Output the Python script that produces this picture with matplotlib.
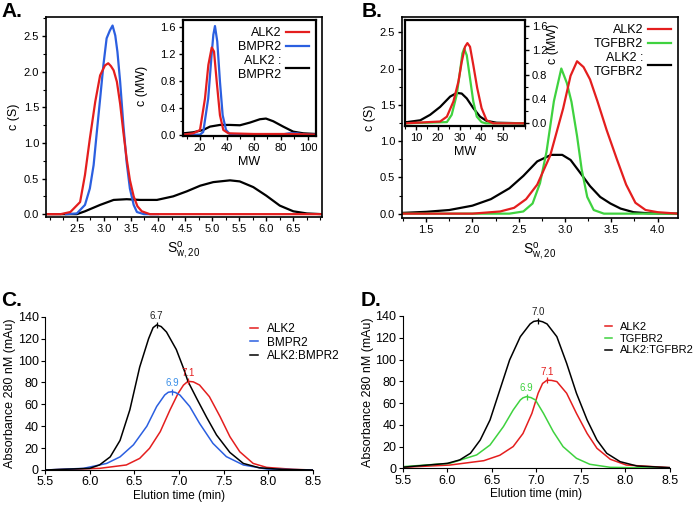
import numpy as np
import matplotlib
matplotlib.use("Agg")
import matplotlib.pyplot as plt
from matplotlib.ticker import MultipleLocator

plt.rcParams['font.family'] = ['Liberation Sans', 'DejaVu Sans']
plt.rcParams['mathtext.default'] = 'regular'

# ---- panel A: c(S) main ----
a_alk2_x = [1.93, 2.2, 2.38, 2.56, 2.65, 2.74, 2.84, 2.93, 3.02, 3.08, 3.13, 3.18, 3.24, 3.30, 3.36, 3.42, 3.48, 3.55, 3.62, 3.70, 3.85, 7.03]
a_alk2_y = [0, 0, 0.03, 0.17, 0.55, 1.06, 1.58, 1.95, 2.09, 2.12, 2.08, 2.02, 1.86, 1.55, 1.15, 0.78, 0.48, 0.25, 0.11, 0.04, 0.0, 0.0]
a_bmpr2_x = [2.3, 2.50, 2.65, 2.74, 2.81, 2.87, 2.93, 2.99, 3.05, 3.11, 3.16, 3.21, 3.25, 3.30, 3.36, 3.42, 3.48, 3.55, 3.61, 3.74, 4.0]
a_bmpr2_y = [0, 0.01, 0.13, 0.36, 0.69, 1.16, 1.62, 2.09, 2.47, 2.58, 2.65, 2.51, 2.28, 1.86, 1.25, 0.73, 0.36, 0.13, 0.03, 0, 0]
a_cplx_x = [1.93, 2.5, 2.65, 2.93, 3.18, 3.42, 3.67, 3.98, 4.28, 4.53, 4.78, 5.02, 5.33, 5.51, 5.76, 6.0, 6.25, 6.5, 6.75, 7.03]
a_cplx_y = [0, 0.0, 0.04, 0.13, 0.20, 0.21, 0.20, 0.20, 0.25, 0.32, 0.40, 0.45, 0.475, 0.46, 0.38, 0.26, 0.12, 0.04, 0.01, 0.0]

# ---- panel A inset: c(MW) ----
ai_alk2_x = [7.4, 15, 20, 23.7, 26.2, 28.7, 30.4, 32.4, 34.8, 37.3, 41, 60, 80, 90, 106]
ai_alk2_y = [0.0, 0.02, 0.07, 0.54, 1.04, 1.30, 1.24, 0.79, 0.29, 0.07, 0.02, 0.01, 0.01, 0.01, 0.0]
ai_bmpr2_x = [7.4, 20, 22.4, 26.1, 28.6, 29.9, 31.1, 32.8, 34.8, 36.8, 39.3, 42, 60, 80, 86, 92, 98, 106]
ai_bmpr2_y = [0, 0, 0.04, 0.54, 1.19, 1.49, 1.62, 1.39, 0.79, 0.29, 0.07, 0.01, 0, 0, 0.02, 0.02, 0.0, 0]
ai_cplx_x = [7.4, 15, 22.4, 27.4, 34.8, 42.2, 49.6, 57, 64.4, 68.9, 74.3, 81.7, 89.1, 96.5, 106]
ai_cplx_y = [0.02, 0.035, 0.07, 0.12, 0.145, 0.145, 0.14, 0.18, 0.23, 0.24, 0.20, 0.12, 0.045, 0.02, 0.01]

# ---- panel B: c(S) main ----
b_alk2_x = [1.24, 2.0, 2.3, 2.45, 2.58, 2.70, 2.84, 2.98, 3.06, 3.13, 3.20, 3.27, 3.35, 3.45, 3.56, 3.66, 3.76, 3.87, 4.0, 4.22]
b_alk2_y = [0, 0.0, 0.03, 0.08, 0.2, 0.4, 0.8, 1.45, 1.9, 2.1, 2.02, 1.85, 1.55, 1.15, 0.75, 0.4, 0.15, 0.05, 0.02, 0.0]
b_tgfbr2_x = [1.24, 2.4, 2.55, 2.65, 2.73, 2.80, 2.88, 2.96, 3.02, 3.07, 3.13, 3.18, 3.24, 3.31, 3.42, 4.22]
b_tgfbr2_y = [0, 0, 0.03, 0.14, 0.42, 0.85, 1.55, 2.0, 1.8, 1.54, 1.07, 0.61, 0.23, 0.05, 0.0, 0.0]
b_cplx_x = [1.24, 1.5, 1.75, 2.0, 2.2, 2.4, 2.55, 2.7, 2.85, 2.97, 3.06, 3.16, 3.27, 3.38, 3.49, 3.6, 3.74, 3.9, 4.22]
b_cplx_y = [0.01, 0.025, 0.05, 0.11, 0.2, 0.35, 0.52, 0.72, 0.81, 0.81, 0.74, 0.57, 0.38, 0.23, 0.14, 0.07, 0.02, 0.005, 0]

# ---- panel B inset: c(MW) ----
bi_alk2_x = [5, 21.1, 24.2, 27.2, 29.5, 31.0, 32.5, 33.6, 34.8, 36.3, 38.1, 40.1, 42.4, 45.4, 60]
bi_alk2_y = [0, 0.03, 0.11, 0.36, 0.69, 1.01, 1.26, 1.32, 1.26, 0.96, 0.58, 0.25, 0.05, 0, 0]
bi_tgfbr2_x = [5, 24.2, 26.4, 28.7, 30.2, 31.3, 32.1, 33.3, 34.8, 36.3, 37.9, 40.1, 42, 60]
bi_tgfbr2_y = [0, 0.02, 0.14, 0.47, 0.85, 1.15, 1.23, 1.12, 0.74, 0.36, 0.11, 0.02, 0, 0]
bi_cplx_x = [5, 5.9, 12.0, 16.5, 21.1, 25.7, 28.7, 31.0, 33.3, 36.3, 39.4, 42.4, 47, 60]
bi_cplx_y = [0.02, 0.02, 0.05, 0.14, 0.27, 0.44, 0.50, 0.49, 0.41, 0.25, 0.11, 0.04, 0.01, 0]

# ---- panel C: SEC, ALK2 / BMPR2 ----
c_alk2_x = [5.5, 6.11, 6.41, 6.56, 6.67, 6.79, 6.90, 6.99, 7.05, 7.1, 7.16, 7.23, 7.34, 7.46, 7.57, 7.68, 7.83, 7.98, 8.28, 8.5]
c_alk2_y = [0, 1.5, 4.6, 10.6, 19.8, 35, 55, 70, 77.5, 81, 80.5, 77.6, 67, 48.7, 30.4, 16.7, 6, 2.4, 0.6, 0]
c_bmpr2_x = [5.5, 5.93, 6.19, 6.34, 6.49, 6.64, 6.75, 6.84, 6.88, 6.92, 6.96, 7.01, 7.12, 7.23, 7.38, 7.53, 7.72, 7.98, 8.5]
c_bmpr2_y = [0, 1.5, 6, 12, 23, 40, 58, 68.5, 71, 71.5, 70.8, 68.5, 58, 42.6, 24.3, 12.2, 4.6, 0.9, 0]
c_cplx_x = [5.5, 6.0, 6.11, 6.23, 6.34, 6.45, 6.56, 6.66, 6.71, 6.75, 6.80, 6.86, 6.97, 7.05, 7.1, 7.2, 7.31, 7.42, 7.57, 7.72, 7.9, 8.16, 8.5]
c_cplx_y = [0, 1.5, 4.6, 12, 27, 55, 94, 120, 130, 132.5, 131, 126, 110, 93, 81, 65, 48, 32, 16, 6, 2, 0.5, 0]
c_peak_labels = ['7.1', '6.9', '6.7']

# ---- panel D: SEC, ALK2 / TGFBR2 ----
d_alk2_x = [5.5, 6.03, 6.41, 6.59, 6.74, 6.85, 6.95, 7.02, 7.07, 7.12, 7.17, 7.23, 7.34, 7.45, 7.57, 7.68, 7.83, 8.01, 8.5]
d_alk2_y = [0.9, 3, 7, 12, 20, 32, 50.5, 69, 78, 81, 80.8, 79.7, 69, 50.5, 32, 18.4, 8.3, 3, 0.6]
d_tgfbr2_x = [5.5, 6.03, 6.33, 6.48, 6.63, 6.74, 6.82, 6.85, 6.89, 6.94, 6.99, 7.08, 7.19, 7.30, 7.45, 7.60, 7.83, 8.5]
d_tgfbr2_y = [1.5, 4.6, 12.3, 21.4, 38.3, 53.6, 62.8, 64.8, 65.9, 65, 62.8, 50.5, 33.7, 19.9, 9.2, 3.7, 0.9, 0]
d_cplx_x = [5.5, 6.0, 6.14, 6.26, 6.37, 6.48, 6.59, 6.70, 6.82, 6.93, 6.97, 7.02, 7.07, 7.12, 7.23, 7.34, 7.45, 7.57, 7.68, 7.79, 7.94, 8.13, 8.5]
d_cplx_y = [1, 4.5, 7.7, 13.8, 26, 44.4, 72, 99.6, 121, 132.7, 135, 135.7, 134.7, 132.7, 121, 96.5, 69, 44.4, 26, 13.8, 6.1, 2.1, 0.6]
d_peak_labels = ['7.1', '6.9', '7.0']

RED = '#e41e1e'
BLUE = '#2b5fe0'
GREEN = '#3fd23f'
BLACK = '#000000'
FS = 8

fig = plt.figure(figsize=(7.0, 5.05), dpi=100)


def pos(l, t, r, b):
    # pixel box -> figure fraction
    return [l / 700, 1 - b / 505, (r - l) / 700, (b - t) / 505]


def style_box(ax, lw=1.2):
    for s in ax.spines.values():
        s.set_linewidth(lw)
    ax.tick_params(direction='out', labelsize=FS, width=1, length=3, pad=2)
    ax.tick_params(which='minor', direction='out', length=2, width=0.8)


sw_label = r'$\mathregular{S^{o}_{w,20}}$'

# ===== A =====
axA = fig.add_axes(pos(46, 17, 322, 217))
axA.plot(a_cplx_x, a_cplx_y, color=BLACK, lw=1.6)
axA.plot(a_bmpr2_x, a_bmpr2_y, color=BLUE, lw=1.6)
axA.plot(a_alk2_x, a_alk2_y, color=RED, lw=1.6)
axA.set_xlim(1.93, 7.03)
axA.set_ylim(-0.04, 2.77)
axA.set_xticks(np.arange(2.5, 6.51, 0.5))
axA.xaxis.set_minor_locator(MultipleLocator(0.25))
axA.set_yticks(np.arange(0, 2.51, 0.5))
axA.yaxis.set_minor_locator(MultipleLocator(0.25))
axA.yaxis.set_major_formatter(matplotlib.ticker.FormatStrFormatter('%.1f'))
style_box(axA)
axA.set_ylabel('c (S)', fontsize=9, labelpad=3)
axA.set_xlabel(sw_label, fontsize=10, labelpad=4)

axAi = fig.add_axes(pos(183, 20, 316, 136))
axAi.plot(ai_cplx_x, ai_cplx_y, color=BLACK, lw=1.6, label='ALK2 :\nBMPR2')
axAi.plot(ai_bmpr2_x, ai_bmpr2_y, color=BLUE, lw=1.6, label='BMPR2')
axAi.plot(ai_alk2_x, ai_alk2_y, color=RED, lw=1.6, label='ALK2')
axAi.set_xlim(7.4, 106)
axAi.set_ylim(-0.02, 1.71)
axAi.set_xticks([20, 40, 60, 80, 100])
axAi.xaxis.set_minor_locator(MultipleLocator(10))
axAi.set_yticks([0, 0.4, 0.8, 1.2, 1.6])
axAi.yaxis.set_minor_locator(MultipleLocator(0.2))
axAi.yaxis.set_major_formatter(matplotlib.ticker.FormatStrFormatter('%.1f'))
style_box(axAi, lw=1.6)
axAi.set_xlabel('MW', fontsize=FS + 1, labelpad=2)
axAi.set_ylabel('c (MW)', fontsize=FS + 1)
axAi.yaxis.set_label_coords(-0.26, 0.43)
h, l = axAi.get_legend_handles_labels()
legA = axAi.legend(h[::-1], l[::-1], loc='upper right', bbox_to_anchor=(1.0, 1.0), frameon=False,
                   markerfirst=False, fontsize=FS + 1, handlelength=1.8, handletextpad=0.4,
                   labelspacing=0.15, borderaxespad=0.2)
for t in legA.get_texts():
    t.set_multialignment('right')

# ===== B =====
axB = fig.add_axes(pos(402, 17, 678, 218))
axB.plot(b_cplx_x, b_cplx_y, color=BLACK, lw=1.6, label='ALK2 :\nTGFBR2')
axB.plot(b_tgfbr2_x, b_tgfbr2_y, color=GREEN, lw=1.6, label='TGFBR2')
axB.plot(b_alk2_x, b_alk2_y, color=RED, lw=1.6, label='ALK2')
axB.set_xlim(1.24, 4.22)
axB.set_ylim(-0.06, 2.71)
axB.set_xticks(np.arange(1.5, 4.01, 0.5))
axB.xaxis.set_minor_locator(MultipleLocator(0.25))
axB.set_yticks(np.arange(0, 2.51, 0.5))
axB.yaxis.set_minor_locator(MultipleLocator(0.25))
axB.yaxis.set_major_formatter(matplotlib.ticker.FormatStrFormatter('%.1f'))
style_box(axB)
axB.set_ylabel('c (S)', fontsize=9, labelpad=3)
axB.set_xlabel(sw_label, fontsize=10, labelpad=4)
h, l = axB.get_legend_handles_labels()
legB = axB.legend(h[::-1], l[::-1], loc='upper right', bbox_to_anchor=(1.0, 1.0), frameon=False,
                  markerfirst=False, fontsize=FS + 1, handlelength=1.8, handletextpad=0.4,
                  labelspacing=0.15, borderaxespad=0.2)
for t in legB.get_texts():
    t.set_multialignment('right')

axBi = fig.add_axes(pos(405, 20, 525, 126))
axBi.plot(bi_cplx_x, bi_cplx_y, color=BLACK, lw=1.6)
axBi.plot(bi_tgfbr2_x, bi_tgfbr2_y, color=GREEN, lw=1.6)
axBi.plot(bi_alk2_x, bi_alk2_y, color=RED, lw=1.6)
axBi.set_xlim(5, 60)
axBi.set_ylim(-0.044, 1.70)
axBi.set_xticks([10, 20, 30, 40, 50])
axBi.xaxis.set_minor_locator(MultipleLocator(5))
axBi.set_yticks([0, 0.4, 0.8, 1.2, 1.6])
axBi.yaxis.set_minor_locator(MultipleLocator(0.2))
axBi.yaxis.set_major_formatter(matplotlib.ticker.FormatStrFormatter('%.1f'))
axBi.yaxis.tick_right()
style_box(axBi, lw=1.6)
axBi.set_xlabel('MW', fontsize=FS + 1, labelpad=2)
axBi.yaxis.set_label_position('right')
axBi.set_ylabel('c (MW)', fontsize=FS + 1, rotation=90)
axBi.yaxis.set_label_coords(1.18, 0.77)


# ===== C / D =====
def sec_panel(box, series, labels, peak_text, leg_x, leg_fs):
    ax = fig.add_axes(pos(*box))
    lines = []
    for (xs, ys, col) in series:
        ln, = ax.plot(xs, ys, color=col, lw=1.1)
        lines.append(ln)
    for (xs, ys, col), txt in zip(series, peak_text):
        i = int(np.argmax(ys))
        ax.plot([xs[i]], [ys[i]], marker='|', ms=5, mew=0.9, color=col)
        tc = col if col != BLACK else '#222222'
        if col == BLUE:
            tc = '#3a8fe8'
        ax.annotate(txt, (xs[i], ys[i]), xytext=(0, 2.5), textcoords='offset points',
                    ha='center', va='bottom', fontsize=7, color=tc)
    ax.set_xlim(5.5, 8.5)
    ax.set_ylim(0, 140)
    ax.set_xticks(np.arange(5.5, 8.51, 0.5))
    ax.set_yticks(np.arange(0, 141, 20))
    for s in ['top', 'right']:
        ax.spines[s].set_visible(False)
    for s in ['left', 'bottom']:
        ax.spines[s].set_linewidth(0.8)
    ax.tick_params(direction='out', labelsize=9, length=3, width=0.8, pad=1.5)
    ax.set_xlabel('Elution time (min)', fontsize=8.5, labelpad=1)
    ax.set_ylabel('Absorbance 280 nM (mAu)', fontsize=9, labelpad=1)
    ax.legend(lines, labels, loc='upper left', bbox_to_anchor=(leg_x, 0.96), frameon=False,
              fontsize=leg_fs, handlelength=0.7, handletextpad=0.7, labelspacing=0.15,
              borderpad=0, borderaxespad=0)
    return ax


sec_panel((45, 316.7, 313, 470),
          [(c_alk2_x, c_alk2_y, RED),
           (c_bmpr2_x, c_bmpr2_y, BLUE),
           (c_cplx_x, c_cplx_y, BLACK)],
          ['ALK2', 'BMPR2', 'ALK2:BMPR2'], c_peak_labels, 0.765, 8.5)
sec_panel((402.7, 316, 670, 468.3),
          [(d_alk2_x, d_alk2_y, RED),
           (d_tgfbr2_x, d_tgfbr2_y, GREEN),
           (d_cplx_x, d_cplx_y, BLACK)],
          ['ALK2', 'TGFBR2', 'ALK2:TGFBR2'], d_peak_labels, 0.755, 8)

# panel letters
for txt, x, y in [('A.', 1, 2), ('B.', 362, 2), ('C.', 1, 291), ('D.', 361, 291)]:
    fig.text(x / 700, 1 - y / 505, txt, fontsize=15, fontweight='bold', va='top', ha='left')

fig.savefig('out.png', dpi=100)
